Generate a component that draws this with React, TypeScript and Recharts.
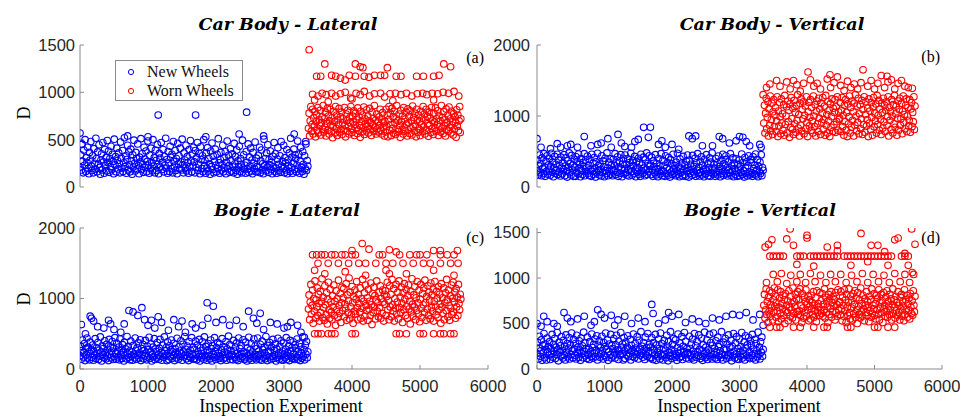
import React from 'react';
import { ScatterChart, Scatter, XAxis, YAxis, Legend } from 'recharts';

const X_TICKS = [0, 1000, 2000, 3000, 4000, 5000, 6000];
const NEW_RUNS = [0, 3350];
const WORN_RUNS = [3360, 5600];
const SERIES = ['New Wheels', 'Worn Wheels'];
const BLUE = '#0000ff';
const RED = '#ff0000';
const FRAME = '#8a8a8a';

// (a) Car Body - Lateral
const newA = [
  210, 340, 180, 455, 270, 150, 390, 230, 500, 165, 310, 260, 420, 195, 140, 365, 285, 480, 220, 175,
  330, 150, 405, 250, 190, 515, 300, 160, 370, 240, 445, 205, 135, 285, 350, 180, 470, 265, 145, 395,
  225, 310, 170, 490, 260, 380, 155, 300, 215, 430, 185, 345, 270, 140, 505, 235, 320, 160, 410, 280,
  190, 360, 245, 150, 475, 305, 200, 385, 165, 255, 520, 215, 330, 145, 290, 440, 180, 370, 235, 160,
  400, 275, 135, 340, 210, 495, 250, 170, 365, 300, 190, 455, 225, 140, 315, 265, 510, 185, 350, 240,
  155, 420, 295, 205, 380, 160, 270, 485, 230, 145, 335, 195, 410, 260, 170, 500, 220, 310, 150, 390,
  280, 175, 450, 240, 140, 355, 305, 210, 470, 185, 260, 395, 160, 325, 230, 515, 200, 290, 145, 375,
  250, 165, 430, 315, 195, 345, 150, 480, 270, 220, 385, 175, 300, 140, 460, 245, 330, 190, 410, 265,
  180, 505, 235, 150, 360, 285, 200, 440, 170, 320, 255, 145, 395, 215, 490, 275, 160, 350, 230, 420,
  265, 150, 385, 205, 310, 470, 175, 240, 355, 140, 425, 290, 195, 330, 160, 500, 225, 280, 145, 360,
  200, 415, 170, 300, 245, 135, 380, 215, 465, 185, 325, 150, 270, 400, 230, 160, 345, 195, 510, 255,
  145, 290, 365, 180, 235, 440, 160, 310, 205, 375, 140, 260, 485, 190, 335, 225, 155, 405, 280, 170,
  350, 210, 150, 460, 245, 320, 175, 390, 135, 275, 215, 430, 165, 300, 240, 150, 495, 200, 340, 185,
  230, 145, 375, 260, 190, 455, 155, 315, 220, 410, 170, 285, 140, 365, 250, 195, 475, 160, 305, 215,
  160, 335, 205, 420, 150, 275, 390, 180, 245, 140, 505, 225, 300, 170, 360, 210, 445, 155, 290, 235,
  380, 185, 260, 140, 325, 215, 470, 165, 350, 200, 145, 295, 415, 240, 175, 330, 155, 480, 220, 270,
  195, 440, 150, 310, 255, 180, 395, 140, 285, 225, 360, 165, 515, 205, 315, 145, 250, 400, 185, 340,
  300, 160, 230, 485, 190, 345, 145, 270, 420, 210, 165, 375, 240, 135, 330, 195, 455, 175, 280, 220,
];
const newAOut = [
  [0, 570], [1150, 760], [1700, 760], [2450, 790], [2340, 560], [3150, 560], [700, 540], [1850, 530],
  [2700, 540], [1000, 530], [30, 450], [3320, 480],
];
const wornA = [
  620, 780, 540, 700, 850, 590, 660, 820, 560, 730, 640, 800, 530, 690, 760, 600, 840, 570, 710, 650,
  810, 550, 680, 740, 610, 860, 580, 720, 630, 790, 540, 670, 830, 600, 750, 560, 700, 820, 650, 590,
  730, 520, 640, 800, 690, 570, 850, 620, 760, 545, 710, 660, 830, 580, 740, 610, 790, 555, 680, 720,
  600, 840, 650, 530, 770, 700, 590, 810, 640, 560, 730, 680, 850, 615, 575, 750, 690, 805, 545, 660,
  780, 620, 710, 565, 835, 600, 740, 650, 525, 800, 690, 580, 760, 630, 845, 555, 720, 670, 595, 815,
  640, 750, 570, 700, 830, 610, 680, 545, 790, 660, 725, 590, 860, 635, 705, 560, 770, 615, 690, 580,
  740, 650, 820, 600, 560, 710, 785, 630, 675, 540,
  690, 580, 820, 640, 760, 530, 710, 850, 600, 780, 660, 545, 830, 620, 740, 570, 800, 680, 555, 720,
  860, 610, 700, 585, 770, 650, 525, 810, 690, 605, 750, 560, 840, 630, 715, 590, 790, 665, 540, 825,
  675, 745, 565, 805, 625, 700, 550, 855, 640, 735, 595, 780, 655, 530, 820, 705, 575, 760, 615, 690,
  545, 800, 660, 725, 585, 850, 635, 770, 560, 710, 820, 600, 745, 670, 535, 790, 650, 730, 575, 840,
  615, 700, 555, 780, 685, 625, 835, 590, 720, 660, 805, 545, 755, 640, 700, 580, 860, 620, 735, 565,
  795, 650, 710, 540, 825, 605, 680, 760, 590, 845, 630, 720, 570, 800, 655, 690, 550, 775, 610, 740,
  685, 525, 815, 645, 760, 595, 700, 850, 575, 720,
];
const wornAOut = [
  [3370, 1450], [3420, 980], [3500, 960], [3560, 990], [3620, 975], [3700, 990], [3760, 960], [3830, 985],
  [3900, 1000], [3980, 940], [4060, 990], [4120, 975], [4180, 1010], [4260, 960], [4330, 985], [4420, 990],
  [4480, 950], [4560, 985], [4640, 990], [4720, 975], [4800, 990], [4880, 960], [4960, 985], [5040, 990],
  [5100, 975], [5180, 990], [5260, 985], [5340, 1000], [5420, 990], [5500, 1010], [5570, 960],
  [3480, 1170], [3540, 1170], [3700, 1180], [3760, 1170], [3830, 1150], [3960, 1180], [4050, 1170],
  [4180, 1170], [4250, 1160], [4420, 1180], [4480, 1180], [4650, 1170], [4720, 1170], [4950, 1170],
  [5050, 1170], [5200, 1170], [5280, 1180], [3600, 1300], [4050, 1300], [4120, 1270], [4160, 1260],
  [4520, 1260], [5350, 1300], [5450, 1270], [3900, 1130], [4330, 1180], [3450, 920], [3650, 900],
  [4000, 930], [4600, 910], [5200, 920],
];

// (b) Car Body - Vertical
const newB = [
  230, 380, 170, 300, 450, 200, 330, 160, 410, 260, 190, 470, 280, 150, 360, 220, 440, 180, 310, 250,
  400, 165, 290, 475, 210, 350, 145, 270, 430, 190, 320, 240, 460, 175, 380, 215, 300, 155, 420, 265,
  185, 340, 250, 455, 160, 295, 410, 225, 140, 370, 275, 480, 200, 330, 170, 445, 240, 310, 150, 390,
  280, 150, 425, 210, 360, 185, 465, 255, 320, 145, 400, 230, 175, 345, 290, 470, 160, 380, 215, 270,
  435, 195, 305, 165, 385, 245, 150, 460, 220, 335, 180, 415, 265, 140, 355, 200, 475, 235, 300, 170,
  325, 250, 155, 440, 205, 370, 285, 145, 405, 230, 190, 480, 270, 160, 350, 215, 395, 180, 310, 245,
  160, 390, 235, 300, 470, 175, 340, 210, 425, 150, 280, 365, 195, 455, 255, 145, 320, 405, 185, 260,
  450, 200, 315, 170, 395, 240, 155, 345, 285, 475, 220, 165, 375, 300, 190, 430, 250, 145, 360, 210,
  275, 405, 180, 340, 150, 460, 230, 310, 195, 420, 265, 160, 385, 245, 480, 175, 330, 215, 440, 290,
  310, 175, 420, 240, 150, 365, 285, 200, 455, 170, 330, 260, 145, 400, 215, 295, 185, 470, 235, 160,
  375, 220, 305, 150, 440, 190, 270, 345, 165, 415, 245, 140, 385, 210, 325, 175, 460, 255, 195, 300,
  160, 350, 230, 475, 180, 285, 145, 395, 265, 205, 335, 155, 430, 240, 175, 310, 150, 365, 220, 450,
  270, 140, 380, 195, 320, 250, 165, 445, 215, 290, 180, 405, 150, 340, 235, 470, 190, 280, 155, 360,
  205, 425, 170, 305, 240, 145, 390, 260, 185, 455, 225, 330, 160, 275, 410, 150, 350, 200, 480, 245,
  180, 315, 265, 150, 400, 210, 340, 170, 435, 230, 290, 145, 370, 195, 255, 460, 165, 325, 215, 385,
  440, 185, 275, 155, 355, 240, 200, 470, 165, 300, 225, 410, 145, 335, 260, 180, 395, 210, 150, 320,
  250, 380, 160, 290, 205, 465, 175, 345, 230, 140, 415, 270, 190, 355, 155, 300, 440, 215, 170, 385,
  345, 200, 150, 425, 260, 180, 310, 465, 170, 240, 385, 145, 290, 215, 350, 190, 455, 160, 275, 235,
];
const newBOut = [
  [0, 680], [60, 560], [200, 540], [300, 610], [350, 560], [450, 580], [500, 600], [600, 560], [700, 710],
  [800, 580], [900, 600], [950, 620], [1050, 680], [1100, 560], [1200, 740], [1250, 620], [1300, 570],
  [1400, 560], [1450, 640], [1500, 670], [1580, 840], [1680, 840], [1650, 700], [1800, 600], [1850, 650],
  [1900, 560], [2000, 600], [2100, 530], [2250, 720], [2300, 680], [2350, 720], [2450, 580], [2600, 580],
  [2700, 710], [2750, 680], [2850, 620], [2950, 650], [3000, 710], [3050, 700], [3100, 640], [3150, 580],
  [3300, 600], [3320, 560],
];
const wornB = [
  900, 1150, 760, 1040, 1250, 820, 980, 1200, 720, 1100, 870, 1280, 790, 950, 1180, 740, 1060, 1230, 850, 1010,
  1120, 780, 930, 1270, 710, 1070, 860, 1190, 990, 750, 1240, 900, 1030, 800, 1160, 730, 1290, 880, 1000, 1130,
  760, 1210, 920, 1080, 700, 1170, 840, 1260, 960, 810, 1110, 740, 1220, 890, 1050, 770, 1150, 940, 1300, 830,
  1020, 720, 1180, 870, 1240, 790, 1090, 960, 1200, 750, 1010, 1140, 820, 1270, 910, 710, 1060, 1190, 860, 980,
  1230, 800, 1120, 930, 760, 1280, 1000, 850, 1160, 720, 1070, 1210, 890, 780, 1250, 970, 1100, 740, 1180, 910,
  1040, 1260, 810, 950, 1140, 730, 1290, 870, 1020, 760, 1200, 930, 1080, 710, 1170, 840, 990, 1240, 780, 1110,
  880, 1050, 1230, 770, 1130, 920, 1270, 800, 1060, 950,
  970, 1190, 780, 1080, 1260, 850, 1010, 730, 1150, 920, 1230, 800, 1050, 710, 1170, 890, 990, 1280, 760, 1120,
  840, 1210, 940, 1060, 720, 1180, 870, 1300, 1000, 790, 1140, 910, 1250, 750, 1030, 1160, 820, 960, 1220, 740,
  1090, 880, 1270, 770, 1020, 1200, 860, 950, 1110, 710, 1240, 900, 1070, 810, 1190, 980, 730, 1130, 1260, 850,
  1040, 930, 1170, 760, 1290, 880, 1010, 1220, 800, 1100, 950, 740, 1180, 1050, 830, 1250, 920, 1150, 780, 1080,
  1200, 870, 990, 1270, 720, 1120, 940, 1060, 810, 1230, 1000, 760, 1160, 890, 1290, 840, 1030, 1140, 730, 970,
  1210, 800, 1090, 1250, 870, 960, 1180, 750, 1070, 1280, 910, 1020, 820, 1150, 1240, 780, 1000, 1120, 860, 940,
  1230, 770, 1100, 1190, 850, 1050, 920, 1270, 810, 1140,
];
const wornBOut = [
  [3350, 1300], [3400, 1400], [3450, 1450], [3550, 1500], [3600, 1420], [3700, 1480], [3750, 1380],
  [3800, 1500], [3850, 1440], [3900, 1350], [3950, 1460], [4015, 1620], [4050, 1510], [4100, 1420],
  [4150, 1460], [4200, 1380], [4300, 1520], [4340, 1580], [4350, 1400], [4400, 1470], [4450, 1550],
  [4500, 1430], [4550, 1360], [4600, 1490], [4650, 1400], [4700, 1450], [4750, 1380], [4800, 1470],
  [4830, 1650], [4900, 1420], [4950, 1500], [5000, 1380], [5050, 1460], [5100, 1570], [5150, 1400],
  [5185, 1560], [5200, 1480], [5250, 1510], [5300, 1380], [5350, 1460], [5400, 1500], [5450, 1420],
  [5500, 1400], [5560, 1390],
];

// (c) Bogie - Lateral
const newC = [
  190, 320, 140, 260, 410, 170, 230, 360, 120, 290, 200, 440, 155, 310, 245, 130, 380, 215, 270, 165,
  340, 125, 250, 195, 430, 150, 300, 220, 375, 135, 265, 180, 455, 240, 115, 330, 205, 290, 160, 400,
  230, 145, 350, 185, 280, 120, 420, 210, 315, 160, 255, 390, 135, 295, 175, 445, 225, 140, 365, 250,
  170, 310, 130, 425, 205, 270, 150, 345, 235, 115, 380, 190, 285, 145, 460, 220, 320, 165, 255, 130,
  395, 180, 240, 125, 335, 210, 160, 440, 265, 140, 300, 195, 370, 155, 230, 415, 120, 290, 200, 350,
  145, 260, 185, 405, 225, 130, 325, 170, 275, 450, 150, 240, 355, 115, 210, 310, 175, 430, 135, 285,
  250, 160, 375, 200, 140, 295, 420, 180, 235, 125, 340, 215, 165, 455, 260, 190, 305, 120, 385, 225,
  135, 330, 175, 270, 410, 150, 245, 195, 365, 120, 290, 230, 160, 435, 205, 140, 315, 255, 180, 400,
  215, 125, 350, 240, 170, 460, 195, 280, 145, 325, 230, 120, 390, 175, 265, 155, 445, 210, 300, 140,
  280, 150, 395, 205, 130, 340, 245, 175, 420, 115, 300, 220, 160, 385, 265, 140, 455, 195, 320, 170,
  125, 260, 360, 185, 235, 145, 410, 290, 115, 330, 210, 165, 445, 250, 135, 305, 190, 375, 225, 150,
  355, 175, 120, 270, 430, 200, 145, 315, 240, 160, 390, 125, 285, 215, 465, 180, 345, 135, 260, 195,
  205, 130, 405, 255, 165, 310, 140, 370, 225, 120, 440, 185, 290, 150, 335, 215, 175, 415, 245, 135,
  160, 380, 230, 115, 300, 195, 450, 145, 270, 210, 360, 125, 240, 175, 425, 155, 325, 200, 130, 290,
  440, 185, 255, 140, 350, 210, 125, 395, 275, 165, 305, 230, 145, 460, 190, 120, 335, 250, 170, 375,
  240, 135, 310, 180, 420, 150, 265, 200, 355, 115, 285, 165, 435, 225, 140, 320, 190, 400, 130, 255,
  125, 370, 215, 160, 280, 445, 140, 235, 185, 330, 120, 405, 260, 170, 300, 150, 385, 210, 135, 345,
  295, 170, 425, 140, 250, 195, 365, 120, 315, 225, 155, 455, 180, 275, 130, 340, 210, 390, 160, 245,
];
const newCOut = [
  [20, 630], [80, 500], [150, 750], [170, 720], [200, 680], [260, 600], [350, 580], [420, 690], [450, 640],
  [500, 560], [600, 520], [650, 640], [720, 830], [780, 810], [850, 760], [910, 870], [950, 700],
  [1000, 620], [1050, 690], [1100, 580], [1150, 740], [1200, 660], [1300, 550], [1380, 700], [1450, 600],
  [1500, 680], [1550, 520], [1650, 640], [1700, 580], [1800, 620], [1870, 940], [1880, 720], [1960, 890],
  [2000, 660], [2100, 700], [2200, 620], [2300, 690], [2400, 600], [2480, 820], [2550, 720], [2600, 650],
  [2650, 790], [2700, 560], [2800, 660], [2900, 640], [3000, 580], [3050, 600], [3100, 660], [3200, 620],
  [3250, 520], [3300, 450],
];
const wornC = [
  850, 1050, 700, 950, 1200, 780, 900, 1120, 650, 1000, 820, 1250, 720, 980, 880, 1150, 760, 1060, 930, 680,
  1100, 800, 960, 1280, 730, 1020, 870, 690, 1180, 910, 770, 1080, 640, 990, 1230, 840, 720, 1130, 950, 810,
  700, 1040, 880, 1190, 760, 960, 620, 1110, 840, 1000, 730, 1260, 900, 790, 1070, 660, 940, 1160, 830, 1010,
  1140, 740, 920, 860, 1210, 690, 1050, 800, 970, 1290, 710, 1090, 880, 770, 1170, 940, 650, 1030, 820, 1120,
  780, 990, 1240, 870, 700, 1060, 930, 810, 1150, 720, 1000, 860, 1270, 680, 960, 1080, 750, 1190, 900, 830,
  1010, 690, 1130, 850, 960, 760, 1220, 910, 630, 1070, 800, 1160, 880, 1040, 710, 980, 1250, 820, 940, 740,
  1090, 870, 1180, 720, 1000, 790, 1120, 950, 680, 1060,
  920, 1110, 760, 1030, 1230, 840, 970, 700, 1180, 880, 1060, 740, 1270, 910, 820, 1140, 680, 1000, 860, 1200,
  780, 950, 1090, 710, 1250, 870, 1020, 800, 1160, 930, 660, 1080, 840, 1210, 990, 760, 1130, 890, 720, 1040,
  1190, 850, 960, 640, 1100, 810, 1280, 920, 750, 1050, 880, 1170, 700, 1010, 830, 1240, 940, 780, 1120, 670,
  990, 1200, 860, 730, 1070, 910, 1150, 800, 1260, 940, 690, 1030, 850, 1180, 760, 1090, 980, 710, 1220, 870,
  1050, 820, 1130, 680, 960, 1240, 890, 770, 1100, 1000, 730, 1170, 840, 1060, 920, 650, 1210, 880, 1010, 790,
  1150, 700, 940, 1080, 830, 1270, 980, 740, 1120, 900, 690, 1040, 860, 1190, 770, 1000, 1230, 810, 950, 1090,
  720, 1140, 880, 1020, 760, 1200, 930, 840, 1060, 990,
];
const wornCOut = [
  [3450, 500], [3500, 500], [3550, 500], [3650, 500], [3700, 500], [3750, 500], [4000, 500], [4050, 500],
  [4650, 500], [4700, 500], [4800, 500], [5000, 500], [5050, 500], [5200, 500], [5300, 500], [5350, 500],
  [5450, 500], [5500, 500],
  [3420, 1620], [3480, 1620], [3550, 1620], [3600, 1620], [3700, 1620], [3750, 1620], [3850, 1620],
  [3900, 1620], [4000, 1620], [4050, 1620], [4400, 1620], [4450, 1620], [4700, 1620], [4850, 1620],
  [4950, 1620], [5000, 1620], [5100, 1620], [5300, 1620], [5400, 1620], [5500, 1620],
  [3500, 1500], [3650, 1500], [3800, 1500], [3950, 1500], [4100, 1500], [4200, 1500], [4350, 1500],
  [4500, 1500], [4600, 1500], [4750, 1500], [4900, 1500], [5050, 1500], [5150, 1500], [5300, 1500],
  [5450, 1500], [5560, 1500],
  [3450, 1400], [3600, 1350], [3900, 1380], [4200, 1330], [4550, 1350], [4500, 1400], [4800, 1350],
  [5200, 1400], [5500, 1330], [4150, 1780], [4250, 1700], [4550, 1690], [4650, 1660], [5200, 1680],
  [5300, 1680], [5550, 1680], [4000, 1680],
];

// (d) Bogie - Vertical
const newD = [
  170, 290, 110, 230, 360, 140, 200, 320, 95, 260, 180, 390, 125, 275, 215, 100, 340, 190, 245, 150,
  300, 105, 225, 165, 380, 130, 270, 195, 335, 115, 240, 160, 400, 210, 90, 295, 185, 255, 140, 355,
  205, 120, 315, 155, 250, 100, 375, 185, 280, 135, 230, 345, 110, 265, 160, 395, 200, 125, 325, 220,
  150, 280, 110, 370, 185, 240, 130, 310, 210, 95, 340, 170, 255, 125, 405, 195, 290, 145, 225, 115,
  350, 160, 215, 105, 300, 190, 140, 385, 235, 120, 270, 175, 330, 135, 205, 365, 100, 260, 180, 310,
  130, 235, 165, 360, 200, 110, 290, 150, 245, 395, 130, 215, 320, 95, 190, 275, 155, 380, 120, 255,
  225, 145, 335, 180, 120, 265, 370, 160, 210, 105, 305, 195, 150, 400, 230, 170, 275, 100, 345, 200,
  115, 295, 155, 240, 365, 135, 220, 175, 325, 100, 260, 205, 140, 385, 185, 125, 280, 230, 160, 355,
  195, 110, 315, 215, 150, 410, 175, 250, 130, 290, 205, 105, 350, 155, 235, 140, 390, 190, 270, 125,
  240, 120, 345, 175, 105, 290, 210, 155, 380, 95, 265, 185, 135, 330, 225, 110, 395, 165, 280, 145,
  100, 230, 315, 160, 205, 125, 370, 250, 90, 300, 180, 140, 410, 215, 115, 270, 165, 335, 195, 130,
  320, 150, 95, 235, 385, 175, 125, 285, 210, 140, 355, 105, 250, 190, 400, 155, 305, 120, 225, 170,
  180, 110, 360, 225, 145, 275, 120, 330, 195, 100, 390, 160, 255, 130, 300, 185, 150, 375, 215, 115,
  140, 340, 200, 95, 265, 170, 405, 125, 240, 185, 320, 105, 210, 150, 380, 135, 290, 175, 110, 260,
  395, 160, 225, 120, 310, 185, 105, 350, 245, 145, 270, 200, 125, 410, 165, 100, 295, 220, 150, 335,
  210, 115, 275, 155, 375, 130, 235, 175, 315, 90, 250, 145, 390, 195, 120, 285, 165, 355, 110, 225,
  105, 330, 190, 140, 245, 400, 120, 205, 165, 295, 100, 365, 230, 150, 265, 130, 345, 185, 115, 305,
  260, 150, 380, 120, 220, 170, 325, 100, 280, 200, 135, 405, 160, 240, 110, 300, 185, 350, 140, 215,
];
const newDOut = [
  [0, 500], [60, 470], [100, 580], [150, 520], [250, 500], [300, 470], [400, 620], [450, 560], [500, 520],
  [600, 550], [700, 580], [800, 480], [850, 520], [900, 650], [950, 600], [1000, 560], [1100, 590],
  [1150, 480], [1200, 540], [1300, 580], [1400, 500], [1500, 560], [1600, 520], [1700, 710], [1720, 610],
  [1800, 500], [1900, 540], [1950, 620], [2000, 580], [2100, 600], [2200, 510], [2300, 550], [2400, 520],
  [2500, 500], [2600, 560], [2700, 540], [2800, 580], [2900, 600], [3000, 590], [3100, 620], [3200, 540],
  [3300, 600], [3350, 480],
];
const wornD = [
  700, 820, 560, 650, 880, 600, 740, 510, 790, 630, 860, 580, 710, 670, 840, 540, 760, 620, 890, 690,
  800, 570, 730, 640, 870, 520, 680, 780, 610, 850, 550, 720, 660, 810, 590, 760, 500, 830, 640, 700,
  620, 750, 530, 860, 680, 580, 800, 650, 720, 560, 890, 610, 740, 690, 820, 540, 770, 630, 850, 600,
  760, 640, 880, 590, 700, 510, 830, 670, 560, 790, 620, 740, 870, 580, 710, 650, 800, 530, 760, 690,
  550, 810, 660, 730, 600, 850, 570, 700, 640, 780, 520, 860, 620, 720, 680, 590, 840, 640, 750, 610,
  830, 580, 710, 650, 880, 560, 790, 620, 740, 690, 510, 820, 600, 770, 660, 850, 570, 730, 630, 800,
  690, 760, 540, 840, 620, 710, 580, 870, 650, 730,
  740, 600, 850, 660, 530, 790, 700, 580, 870, 640, 760, 510, 820, 680, 590, 730, 880, 620, 550, 800,
  670, 750, 540, 830, 610, 710, 860, 570, 780, 650, 500, 840, 690, 600, 760, 560, 890, 630, 720, 580,
  810, 660, 530, 770, 700, 620, 850, 590, 740, 680, 520, 800, 640, 760, 570, 880, 610, 700, 660, 830,
  590, 720, 550, 810, 650, 780, 600, 870, 540, 730, 680, 820, 620, 750, 510, 840, 660, 700, 580, 790,
  630, 860, 570, 740, 690, 600, 820, 650, 770, 540, 710, 880, 610, 760, 680, 560, 800, 640, 730, 590,
  850, 620, 700, 540, 790, 660, 820, 580, 740, 690, 530, 870, 600, 760, 650, 810, 570, 720, 640, 780,
  550, 830, 680, 610, 750, 590, 860, 700, 630, 800,
];
const wornDOut = [
  [3450, 460], [3550, 460], [3600, 460], [3800, 460], [3900, 460], [4100, 460], [4250, 460], [4300, 460],
  [4600, 460], [4650, 460], [5000, 460], [5050, 460], [5200, 460], [5300, 460],
  [3400, 950], [3500, 1040], [3560, 960], [3620, 1050], [3700, 940], [3760, 1030], [3850, 960], [3900, 1040],
  [3980, 950], [4050, 1050], [4120, 960], [4200, 1030], [4280, 950], [4350, 1040], [4420, 960], [4500, 1040],
  [4580, 950], [4660, 1030], [4740, 960], [4820, 1050], [4900, 950], [4980, 1040], [5060, 960], [5140, 1030],
  [5220, 950], [5300, 1050], [5380, 960], [5450, 1040], [5520, 950], [5580, 1040], [5560, 1060],
  [3450, 1240], [3500, 1240], [3550, 1240], [3600, 1240], [3650, 1240], [3850, 1240], [3900, 1240],
  [3950, 1240], [4050, 1240], [4100, 1240], [4150, 1240], [4200, 1240], [4250, 1240], [4300, 1240],
  [4350, 1240], [4400, 1240], [4450, 1240], [4550, 1240], [4600, 1240], [4650, 1240], [4700, 1240],
  [4750, 1240], [4800, 1240], [4850, 1240], [4900, 1240], [4950, 1240], [5000, 1240], [5050, 1240],
  [5100, 1240], [5150, 1240], [5200, 1240], [5250, 1240], [5400, 1240], [5450, 1240], [5500, 1240],
  [3380, 1340], [3430, 1370], [3480, 1420], [3700, 1430], [3750, 1540], [3800, 1360], [4000, 1440],
  [4000, 1470], [4300, 1340], [4450, 1360], [4450, 1300], [4800, 1490], [4950, 1360], [5050, 1360],
  [5150, 1290], [5300, 1420], [5350, 1440], [5450, 1270], [5500, 1140], [5550, 1540], [5600, 1370],
  [3850, 1150], [4100, 1130], [4650, 1140], [4900, 1180], [5200, 1140],
];

// y values are read per run; experiments are numbered consecutively inside each run
const byRun = (ys: number[], run: number[]) =>
  ys.map((y, i) => ({ x: Math.round(run[0] + ((run[1] - run[0]) * i) / (ys.length - 1)), y }));
const pairs = (list: number[][]) => list.map(([x, y]) => ({ x, y }));

const ring = (color: string) => (p: any) =>
  <circle cx={p.cx} cy={p.cy} r={3.3} fill="none" stroke={color} strokeWidth={1.1} />;

const tickStyle = { fill: '#262626', fontSize: 16.5, fontFamily: '"Liberation Sans", Arial, sans-serif' };

const LegendBox = (props: any) => (
  <div style={{ width: 126, height: 39, border: '1px solid #8a8a8a', background: '#fff', fontFamily: '"Liberation Serif", serif', fontSize: 16, color: '#111' }}>
    {(props.payload || []).map((entry: any, i: number) => (
      <div key={entry.value} style={{ display: 'flex', alignItems: 'center', height: 19, marginTop: i === 0 ? 1 : 0 }}>
        <svg width={31} height={19}>
          <circle cx={15} cy={10} r={2.6} fill="none" stroke={i === 0 ? BLUE : RED} strokeWidth={1} />
        </svg>
        <span>{entry.value}</span>
      </div>
    ))}
  </div>
);

type PanelProps = {
  left: number; top: number; width: number; height: number;
  margin: { top: number; right: number; bottom: number; left: number };
  yWidth: number; yGap: number; xHeight: number; yMax: number; yTicks: number[];
  showX: boolean; newPts: { x: number; y: number }[]; wornPts: { x: number; y: number }[]; legend?: boolean;
};

function Panel(p: PanelProps) {
  return (
    <div style={{ position: 'absolute', left: p.left, top: p.top }}>
      <ScatterChart width={p.width} height={p.height} margin={p.margin}>
        <XAxis type="number" dataKey="x" domain={[0, 6000]} ticks={X_TICKS} interval={0} allowDataOverflow
          tick={p.showX ? tickStyle : false} height={p.xHeight} tickSize={-4} tickMargin={15} stroke={FRAME} />
        <XAxis xAxisId="top" orientation="top" type="number" domain={[0, 6000]} ticks={X_TICKS} interval={0}
          allowDataOverflow tick={false} height={0} tickSize={-4} stroke={FRAME} />
        <YAxis type="number" dataKey="y" domain={[0, p.yMax]} ticks={p.yTicks} interval={0} allowDataOverflow
          width={p.yWidth} tickSize={-4} tickMargin={p.yGap} tick={tickStyle} stroke={FRAME} />
        <YAxis yAxisId="right" orientation="right" type="number" domain={[0, p.yMax]} ticks={p.yTicks} interval={0}
          allowDataOverflow width={0} tickSize={-4} tick={false} stroke={FRAME} />
        <Scatter name={SERIES[0]} data={p.newPts} shape={ring(BLUE)} fill={BLUE} isAnimationActive={false} />
        <Scatter name={SERIES[1]} data={p.wornPts} shape={ring(RED)} fill={RED} isAnimationActive={false} />
        {p.legend && (
          <Legend layout="horizontal" verticalAlign="middle" align="center" content={LegendBox}
            wrapperStyle={{ left: 115, top: 60, width: 128, height: 41 }} />
        )}
      </ScatterChart>
    </div>
  );
}

const titleStyle = { fontFamily: '"DejaVu Serif", serif', fontWeight: 700, fontStyle: 'italic', fontSize: 17.5 };
const serif = { fontFamily: '"Liberation Serif", serif' };

export default function App() {
  return (
    <div style={{ position: 'absolute', left: 0, top: 0, width: 965, height: 417, background: '#fff', overflow: 'hidden' }}>
      <Panel left={0} top={0} width={520} height={200} margin={{ top: 45, right: 32, bottom: 13, left: 0 }}
        yWidth={80} yGap={9} xHeight={0} yMax={1500} yTicks={[0, 500, 1000, 1500]} showX={false}
        newPts={[...byRun(newA, NEW_RUNS), ...pairs(newAOut)]} wornPts={[...byRun(wornA, WORN_RUNS), ...pairs(wornAOut)]} legend />
      <Panel left={480} top={0} width={480} height={200} margin={{ top: 45, right: 18, bottom: 13, left: 0 }}
        yWidth={57} yGap={11} xHeight={0} yMax={2000} yTicks={[0, 1000, 2000]} showX={false}
        newPts={[...byRun(newB, NEW_RUNS), ...pairs(newBOut)]} wornPts={[...byRun(wornB, WORN_RUNS), ...pairs(wornBOut)]} />
      <Panel left={0} top={200} width={520} height={217} margin={{ top: 28, right: 32, bottom: 8, left: 0 }}
        yWidth={80} yGap={9} xHeight={40} yMax={2000} yTicks={[0, 1000, 2000]} showX
        newPts={[...byRun(newC, NEW_RUNS), ...pairs(newCOut)]} wornPts={[...byRun(wornC, WORN_RUNS), ...pairs(wornCOut)]} />
      <Panel left={480} top={200} width={480} height={217} margin={{ top: 28, right: 18, bottom: 8, left: 0 }}
        yWidth={57} yGap={11} xHeight={40} yMax={1550} yTicks={[0, 500, 1000, 1500]} showX
        newPts={[...byRun(newD, NEW_RUNS), ...pairs(newDOut)]} wornPts={[...byRun(wornD, WORN_RUNS), ...pairs(wornDOut)]} />
      <svg width={965} height={417} style={{ position: 'absolute', left: 0, top: 0, pointerEvents: 'none' }}>
        <text x={288} y={30} textAnchor="middle" style={titleStyle}>Car Body - Lateral</text>
        <text x={772} y={30} textAnchor="middle" style={titleStyle}>Car Body - Vertical</text>
        <text x={287} y={216} textAnchor="middle" style={titleStyle}>Bogie - Lateral</text>
        <text x={760} y={216} textAnchor="middle" style={titleStyle}>Bogie - Vertical</text>
        <text x={484} y={63} textAnchor="end" fontSize={16} style={serif}>(a)</text>
        <text x={940} y={62} textAnchor="end" fontSize={16} style={serif}>(b)</text>
        <text x={484} y={243} textAnchor="end" fontSize={16} style={serif}>(c)</text>
        <text x={940} y={243} textAnchor="end" fontSize={16} style={serif}>(d)</text>
        <text x={30} y={113} textAnchor="middle" fontSize={18} style={serif} transform="rotate(-90 30 113)">D</text>
        <text x={30} y={299} textAnchor="middle" fontSize={18} style={serif} transform="rotate(-90 30 299)">D</text>
        <text x={281} y={412} textAnchor="middle" fontSize={18} style={serif}>Inspection Experiment</text>
        <text x={739} y={412} textAnchor="middle" fontSize={18} style={serif}>Inspection Experiment</text>
      </svg>
    </div>
  );
}
